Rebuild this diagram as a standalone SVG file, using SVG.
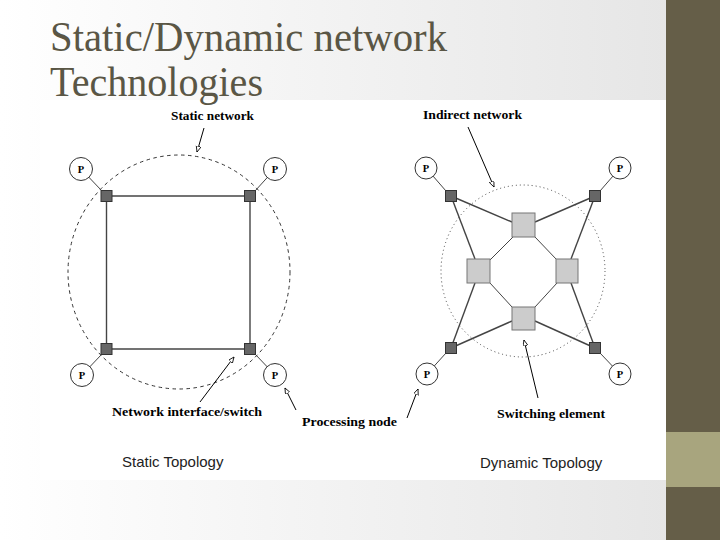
<svg xmlns="http://www.w3.org/2000/svg" width="720" height="540" viewBox="0 0 720 540">
<defs>
<linearGradient id="bg" x1="0" y1="0" x2="1" y2="0">
<stop offset="0" stop-color="#ffffff"/>
<stop offset="1" stop-color="#e4e4e4"/>
</linearGradient>
<marker id="ah" markerUnits="userSpaceOnUse" markerWidth="8" markerHeight="6" refX="6" refY="2.5" orient="auto">
<path d="M0,0 L6,2.5 L0,5 z" fill="#fff" stroke="#000" stroke-width="0.8"/>
</marker>
<style>
.title{font-family:"Liberation Serif",serif;font-size:42px;fill:#5a5645}
.lbl{font-family:"Liberation Serif",serif;font-size:13.5px;font-weight:bold;fill:#000}
.cap{font-family:"Liberation Sans",Arial,sans-serif;font-size:15px;fill:#222}
.p{fill:#fff;stroke:#333;stroke-width:1}
.pt{font-family:"Liberation Serif",serif;font-size:10.5px;font-weight:bold;fill:#000;text-anchor:middle}
.sq{fill:#666;stroke:#333;stroke-width:1}
.lsq{fill:#cccccc;stroke:#777;stroke-width:1}
.ln{stroke:#444;stroke-width:1.4;fill:none}
.thin{stroke:#444;stroke-width:1;fill:none}
.ptr{stroke:#000;stroke-width:1;fill:none;marker-end:url(#ah)}
.dash{fill:none;stroke:#333;stroke-width:1;stroke-dasharray:3.5 3.5}
.dot{fill:none;stroke:#444;stroke-width:1;stroke-dasharray:1 3}
</style>
</defs>
<rect x="0" y="0" width="720" height="540" fill="url(#bg)"/>
<rect x="40" y="100" width="626" height="380" fill="#fff"/>
<rect x="666" y="0" width="54" height="540" fill="#655e48"/>
<rect x="666" y="432" width="54" height="55" fill="#a8a57e"/>
<text class="title" x="50" y="51" textLength="397" lengthAdjust="spacingAndGlyphs">Static/Dynamic network</text>
<text class="title" x="50" y="96" textLength="213" lengthAdjust="spacingAndGlyphs">Technologies</text>

<g id="connectors">
<ellipse class="dash" cx="179" cy="272" rx="111" ry="117"/>
<ellipse class="dot" cx="523" cy="271" rx="82" ry="86"/>
<line class="ln" x1="106.5" y1="196" x2="250" y2="196"/>
<line class="ln" x1="250" y1="196" x2="250" y2="349"/>
<line class="ln" x1="250" y1="349" x2="106.5" y2="349"/>
<line class="ln" x1="106.5" y1="349" x2="106.5" y2="196"/>
<line class="thin" x1="81" y1="169" x2="102" y2="191"/>
<line class="thin" x1="275" y1="169" x2="255" y2="191"/>
<line class="thin" x1="82" y1="375" x2="102" y2="354"/>
<line class="thin" x1="275" y1="375" x2="255" y2="354"/>
<line class="thin" x1="426" y1="168" x2="446" y2="191"/>
<line class="thin" x1="620" y1="168" x2="600" y2="191"/>
<line class="thin" x1="427" y1="374" x2="446" y2="353"/>
<line class="thin" x1="620" y1="374" x2="600" y2="353"/>
<line class="ln" x1="451" y1="196" x2="512" y2="222"/>
<line class="ln" x1="451" y1="196" x2="475" y2="259"/>
<line class="ln" x1="595" y1="196" x2="535" y2="222"/>
<line class="ln" x1="595" y1="196" x2="571" y2="259"/>
<line class="ln" x1="451" y1="348" x2="512" y2="321"/>
<line class="ln" x1="451" y1="348" x2="475" y2="283"/>
<line class="ln" x1="595" y1="348" x2="535" y2="321"/>
<line class="ln" x1="595" y1="348" x2="571" y2="283"/>
<line class="thin" x1="513" y1="237" x2="490" y2="260"/>
<line class="thin" x1="535" y1="237" x2="557" y2="260"/>
<line class="thin" x1="490" y1="283" x2="512" y2="307"/>
<line class="thin" x1="557" y1="283" x2="535" y2="307"/>
<line class="ptr" x1="204" y1="128" x2="197" y2="152"/>
<line class="ptr" x1="200" y1="402" x2="234" y2="357"/>
<line class="ptr" x1="296" y1="410" x2="285" y2="388"/>
<line class="ptr" x1="407" y1="418" x2="418" y2="389"/>
<line class="ptr" x1="468" y1="127" x2="494" y2="187"/>
<line class="ptr" x1="538" y1="398" x2="524" y2="340"/>
</g>

<g id="sp1"><circle class="p" cx="81" cy="169" r="11.5"/><text class="pt" x="81" y="172.5">P</text></g>
<g id="sp2"><circle class="p" cx="275" cy="169" r="11.5"/><text class="pt" x="275" y="172.5">P</text></g>
<g id="sp3"><circle class="p" cx="82" cy="375" r="11.5"/><text class="pt" x="82" y="378.5">P</text></g>
<g id="sp4"><circle class="p" cx="275" cy="375" r="11.5"/><text class="pt" x="275" y="378.5">P</text></g>
<g id="ss1"><rect class="sq" x="101" y="190.5" width="11" height="11"/></g>
<g id="ss2"><rect class="sq" x="244.5" y="190.5" width="11" height="11"/></g>
<g id="ss3"><rect class="sq" x="101" y="343.5" width="11" height="11"/></g>
<g id="ss4"><rect class="sq" x="244.5" y="343.5" width="11" height="11"/></g>

<g id="dp1"><circle class="p" cx="426" cy="168" r="11"/><text class="pt" x="426" y="171.5">P</text></g>
<g id="dp2"><circle class="p" cx="620" cy="168" r="11"/><text class="pt" x="620" y="171.5">P</text></g>
<g id="dp3"><circle class="p" cx="427" cy="374" r="11"/><text class="pt" x="427" y="377.5">P</text></g>
<g id="dp4"><circle class="p" cx="620" cy="374" r="11"/><text class="pt" x="620" y="377.5">P</text></g>
<g id="ds1"><rect class="sq" x="445.5" y="190.5" width="11" height="11"/></g>
<g id="ds2"><rect class="sq" x="589.5" y="190.5" width="11" height="11"/></g>
<g id="ds3"><rect class="sq" x="445.5" y="342.5" width="11" height="11"/></g>
<g id="ds4"><rect class="sq" x="589.5" y="342.5" width="11" height="11"/></g>
<g id="sw1"><rect class="lsq" x="512" y="213" width="23" height="24"/></g>
<g id="sw2"><rect class="lsq" x="467" y="259" width="23" height="24"/></g>
<g id="sw3"><rect class="lsq" x="556" y="259" width="22" height="24"/></g>
<g id="sw4"><rect class="lsq" x="512" y="307" width="23" height="23"/></g>

<text class="lbl" x="171" y="120" textLength="83" lengthAdjust="spacingAndGlyphs">Static network</text>
<text class="lbl" x="112" y="416" textLength="150" lengthAdjust="spacingAndGlyphs">Network interface/switch</text>
<text class="lbl" x="302" y="426" textLength="95" lengthAdjust="spacingAndGlyphs">Processing node</text>
<text class="lbl" x="423" y="119" textLength="99" lengthAdjust="spacingAndGlyphs">Indirect network</text>
<text class="lbl" x="497" y="418" textLength="108" lengthAdjust="spacingAndGlyphs">Switching element</text>
<text class="cap" x="122" y="467">Static Topology</text>
<text class="cap" x="480" y="468">Dynamic Topology</text>
</svg>
